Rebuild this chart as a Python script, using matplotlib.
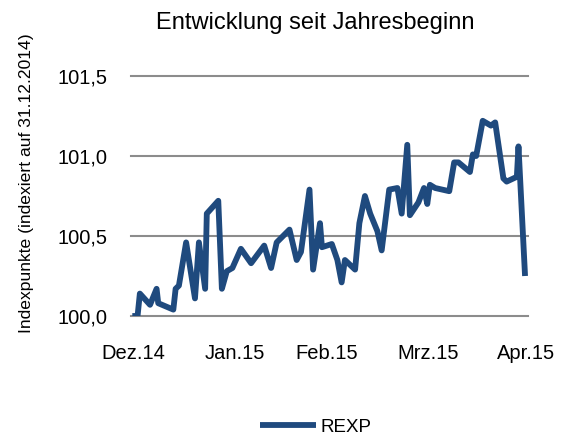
import matplotlib
matplotlib.use("Agg")
import matplotlib.pyplot as plt

# ---- data ----
days = [0.4, 2.0, 2.7, 5.8, 7.8, 8.3, 12.9, 13.6, 14.6, 16.8, 19.5, 20.7, 22.6, 23.1,
        26.6, 27.7, 29.2, 30.9, 33.5, 36.6, 40.6, 42.7, 44.4, 48.3, 50.5, 51.8, 54.4,
        55.5, 57.6, 58.2, 61.2, 62.9, 64.2, 65.2, 68.3, 69.6, 71.3, 72.9, 75.1, 76.4,
        78.7, 81.2, 82.5, 84.2, 85.0, 87.6, 89.3, 90.3, 91.1, 92.7, 97.0, 98.5, 99.8,
        103.3, 104.2, 105.2, 107.2, 109.7, 111.0, 113.5, 114.5, 117.6, 118.1, 120.1]
rexp = [100.00, 100.00, 100.14, 100.07, 100.17, 100.08, 100.04, 100.17, 100.19, 100.46,
        100.11, 100.46, 100.17, 100.64, 100.72, 100.17, 100.28, 100.30, 100.42, 100.33,
        100.44, 100.30, 100.46, 100.54, 100.35, 100.40, 100.79, 100.29, 100.58, 100.43,
        100.45, 100.35, 100.21, 100.35, 100.29, 100.58, 100.75, 100.64, 100.53, 100.41,
        100.79, 100.80, 100.64, 101.07, 100.63, 100.71, 100.80, 100.70, 100.82, 100.80,
        100.78, 100.96, 100.96, 100.90, 101.01, 101.00, 101.22, 101.19, 101.21, 100.86,
        100.84, 100.87, 101.06, 100.25]
tick_days = [0.85, 31.6, 59.6, 90.6, 120.5]
tick_labels = ["Dez.14", "Jan.15", "Feb.15", "Mrz.15", "Apr.15"]
y_ticks = [100.0, 100.5, 101.0, 101.5]
y_labels = ["100,0", "100,5", "101,0", "101,5"]
series_name = "REXP"
title = "Entwicklung seit Jahresbeginn"
ylabel = "Indexpunkte (indexiert auf 31.12.2014)"

plt.rcParams["font.family"] = ["Liberation Sans", "DejaVu Sans"]

W, H = 563, 436
fig = plt.figure(figsize=(W / 100, H / 100), dpi=100)
x0, x1 = 131, 528
y0, y1 = 76, 316
ax = fig.add_axes([x0 / W, 1 - y1 / H, (x1 - x0) / W, (y1 - y0) / H])

line_color = "#1F4A7E"
ax.plot(days, rexp, color=line_color, lw=4.2, solid_joinstyle="round",
        solid_capstyle="butt", label=series_name, zorder=3)

ax.set_xlim(0, 121)
ax.set_ylim(100.0, 101.5)
ax.set_yticks(y_ticks)
ax.set_yticklabels(y_labels)
ax.set_xticks(tick_days)
ax.set_xticklabels(tick_labels)
for s in ax.spines.values():
    s.set_visible(False)
for yv in y_ticks:
    ax.axhline(yv, color="#8C8C8C", lw=1.5, zorder=1, clip_on=False)
ax.tick_params(axis="both", length=0, labelsize=14.5, colors="black")
ax.tick_params(axis="y", pad=17)
ax.tick_params(axis="x", pad=20)

fig.text(315 / W, 1 - 23 / H, title, ha="center", va="center", fontsize=17)
fig.text(27 / W, 1 - 183 / H, ylabel, ha="center", va="center", rotation=90, fontsize=12.6)

leg = fig.legend(loc="center", bbox_to_anchor=(316 / W, 1 - 427 / H), frameon=False,
                 fontsize=13.5, handlelength=3.0, handletextpad=0.25,
                 borderpad=0.0, borderaxespad=0.0)

fig.savefig("out.png", dpi=100)
